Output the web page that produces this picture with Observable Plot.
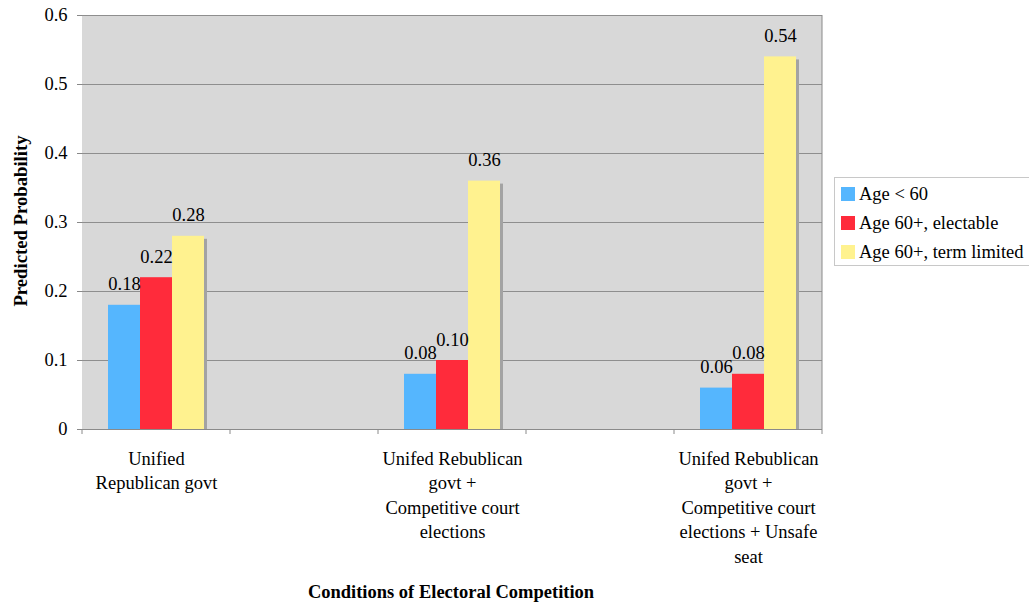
<!DOCTYPE html>
<html>
<head>
<meta charset="utf-8">
<script src="https://cdn.jsdelivr.net/npm/d3@7"></script>
<script src="https://cdn.jsdelivr.net/npm/@observablehq/plot@0.6"></script>
<style>
  html, body { margin: 0; padding: 0; background: #fff; }
  #wrap { position: relative; width: 1029px; height: 607px; font-family: "Liberation Serif", "Times New Roman", serif; color: #000; }
  #wrap svg text { fill: #000; }
  #legend { position: absolute; left: 834px; top: 177px; width: 210px; height: 89px; border: 1px solid #c8c8c8; background: #fff; box-sizing: border-box; }
  .lrow { position: absolute; left: 6px; height: 20px; display: flex; align-items: center; font-size: 18.5px; white-space: nowrap; }
  .lsw { width: 14px; height: 14px; margin-right: 4px; }
  #ytitle { position: absolute; left: 21px; top: 221px; transform: translate(-50%, -50%) rotate(-90deg); font-weight: bold; font-size: 18.7px; white-space: nowrap; }
  #xtitle { position: absolute; left: 451px; top: 592px; transform: translate(-50%, -50%); font-weight: bold; font-size: 18.5px; white-space: nowrap; }
</style>
</head>
<body>
<div id="wrap"></div>
<script>
// ---- Data ----
const categories = [
  "Unified\nRepublican govt",
  "Unifed Rebublican\ngovt +\nCompetitive court\nelections",
  "Unifed Rebublican\ngovt +\nCompetitive court\nelections + Unsafe\nseat"
];
const series = ["Age < 60", "Age 60+, electable", "Age 60+, term limited"];
const ageUnder60 = [0.18, 0.08, 0.06];
const age60Electable = [0.22, 0.10, 0.08];
const age60TermLimited = [0.28, 0.36, 0.54];
const seriesColors = ["#55B6FE", "#FF2B3B", "#FFF28F"];
const yTicks = [0, 0.1, 0.2, 0.3, 0.4, 0.5, 0.6];
const yTitle = "Predicted Probability";
const xTitle = "Conditions of Electoral Competition";

// empty category slots between the groups (as in the original Excel chart)
const fxDomain = [categories[0], "gap-1", categories[1], "gap-2", categories[2]];

const seriesValues = [ageUnder60, age60Electable, age60TermLimited];
const rows = [];
categories.forEach((c, i) => series.forEach((s, j) => rows.push({category: c, series: s, value: seriesValues[j][i]})));
const gridRows = fxDomain.flatMap(f => yTicks.filter(t => t > 0).map(t => ({f, t})));

const font = '"Liberation Serif", "Times New Roman", serif';

const plot = Plot.plot({
  width: 1029,
  height: 607,
  marginLeft: 81,
  marginRight: 207,
  marginTop: 15,
  marginBottom: 178,
  style: {fontFamily: font, fontSize: "18.5px", background: "transparent", color: "#888"},
  fx: {domain: fxDomain, padding: 0, axis: null},
  x: {domain: series, paddingInner: 0, paddingOuter: 0.745, axis: null},
  y: {domain: [0, 0.6], ticks: yTicks, tickFormat: d => d === 0 ? "0" : d.toFixed(1), tickSize: 5, tickPadding: 10, label: null, line: true},
  color: {domain: series, range: seriesColors},
  marks: [
    Plot.rect(fxDomain, {fx: d => d, fill: "#d8d8d8"}),
    Plot.ruleY(gridRows, {fx: "f", y: "t", stroke: "#8e8e8e", strokeWidth: 1}),
    Plot.barY(rows, {fx: "category", x: "series", y: "value", fill: "#a3a3a3", dx: 3, insetTop: 3}),
    Plot.barY(rows, {fx: "category", x: "series", y: "value", fill: "series"}),
    Plot.ruleY(fxDomain, {fx: d => d, y: () => 0, stroke: "#8a8a8a"}),
    Plot.text(rows, {fx: "category", x: "series", y: "value", text: d => d.value.toFixed(2), dy: -15, lineAnchor: "bottom", fontSize: 18.5, fill: "#000"}),
    Plot.text(categories, {fx: d => d, text: d => d, frameAnchor: "bottom", lineAnchor: "top", dy: 18, fontSize: 18.5, lineHeight: 1.32, fill: "#000"})
  ]
});

const wrap = document.getElementById("wrap");
wrap.appendChild(plot);

// x-axis tick marks at category boundaries and right border, from the plot's own scales
const fxS = plot.scale("fx"), yS = plot.scale("y");
const y0 = yS.apply(0), yTop = yS.apply(0.6);
const edges = fxS.domain.map(v => fxS.apply(v));
const rightEdge = fxS.apply(fxS.domain[fxS.domain.length - 1]) + fxS.bandwidth;
edges.push(rightEdge);
const svg = d3.select(plot);
svg.append("g").selectAll("line").data(edges).join("line")
  .attr("x1", d => d).attr("x2", d => d).attr("y1", y0).attr("y2", y0 + 5)
  .attr("stroke", "#8a8a8a");
svg.append("line").attr("x1", rightEdge).attr("x2", rightEdge).attr("y1", yTop).attr("y2", y0).attr("stroke", "#8a8a8a");

// titles
const yt = document.createElement("div"); yt.id = "ytitle"; yt.textContent = yTitle; wrap.appendChild(yt);
const xt = document.createElement("div"); xt.id = "xtitle"; xt.textContent = xTitle; wrap.appendChild(xt);

// legend
const legend = document.createElement("div"); legend.id = "legend";
series.forEach((s, i) => {
  const row = document.createElement("div"); row.className = "lrow";
  row.style.top = (6 + i * 29) + "px";
  const sw = document.createElement("div"); sw.className = "lsw"; sw.style.background = seriesColors[i];
  const tx = document.createElement("span"); tx.textContent = s;
  row.appendChild(sw); row.appendChild(tx); legend.appendChild(row);
});
wrap.appendChild(legend);
</script>
</body>
</html>
